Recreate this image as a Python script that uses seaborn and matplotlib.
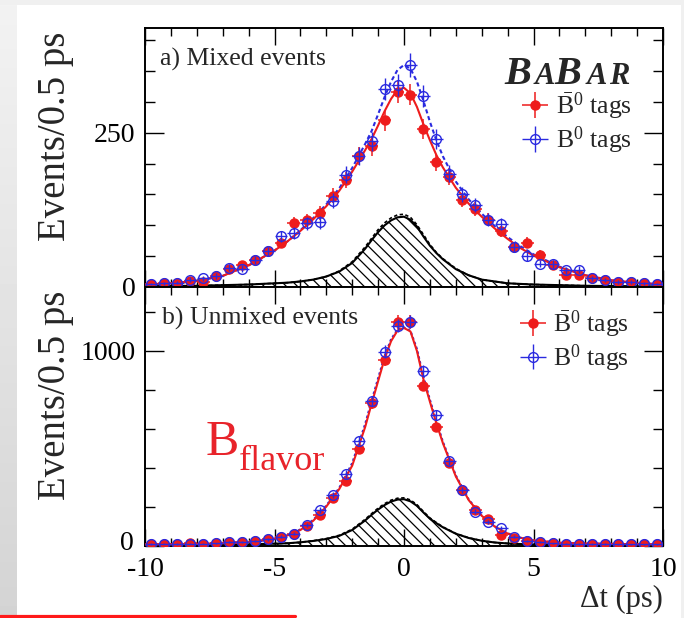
import numpy as np
import matplotlib
matplotlib.use("Agg")
import matplotlib.pyplot as plt
import seaborn as sns
from matplotlib.patches import Rectangle
from matplotlib.lines import Line2D
from matplotlib.ticker import MultipleLocator
from matplotlib.transforms import ScaledTranslation

# ---------------- data ----------------
dt_centers = [-9.75, -9.25, -8.75, -8.25, -7.75, -7.25, -6.75, -6.25, -5.75, -5.25,
              -4.75, -4.25, -3.75, -3.25, -2.75, -2.25, -1.75, -1.25, -0.75, -0.25,
              0.25, 0.75, 1.25, 1.75, 2.25, 2.75, 3.25, 3.75, 4.25, 4.75,
              5.25, 5.75, 6.25, 6.75, 7.25, 7.75, 8.25, 8.75, 9.25, 9.75]
bin_halfwidth = 0.25

mixed_b0bar = [5, 6, 7, 10, 8, 18, 29, 36, 44, 59, 71, 103, 108, 120, 148, 174, 213, 228, 270, 316,
               312, 256, 202, 179, 141, 127, 109, 90, 65, 72, 52, 36, 19, 19, 14, 11, 8, 8, 6, 5]
mixed_b0 = [5, 6, 7, 12, 14, 18, 31, 30, 44, 58, 82, 88, 103, 105, 140, 182, 213, 236, 321, 328,
            360, 310, 240, 184, 150, 133, 109, 102, 65, 50, 38, 37, 27, 28, 14, 11, 8, 8, 6, 5]
unmixed_b0bar = [10, 12, 9, 14, 11, 14, 19, 20, 27, 34, 48, 60, 103, 159, 245, 335, 496, 732, 954, 1148,
                 1148, 822, 612, 424, 287, 185, 137, 56, 39, 27, 22, 15, 12, 11, 9, 10, 8, 9, 8, 8]
unmixed_b0 = [10, 12, 10, 12, 12, 14, 19, 19, 27, 34, 48, 62, 108, 185, 262, 368, 540, 744, 997, 1130,
              1151, 898, 672, 436, 287, 176, 122, 94, 48, 27, 22, 14, 12, 10, 10, 10, 9, 9, 8, 8]

fit_dt = [-10, -9, -8, -7, -6, -5, -4.5, -4, -3.5, -3, -2.5, -2, -1.5, -1.25, -1, -0.75, -0.5, -0.25,
          0, 0.25, 0.5, 0.75, 1, 1.25, 1.5, 2, 2.5, 3, 3.5, 4, 4.5, 5, 6, 7, 8, 9, 10]
mixed_fit_b0bar = [4, 6, 10, 18, 35, 59, 74, 91, 110, 131, 156, 187, 222, 240, 262, 285, 305, 320,
                   323, 314, 292, 264, 238, 214, 194, 161, 135, 114, 95, 78, 63, 51, 32, 19, 11, 7, 4]
mixed_fit_b0 = [4, 6, 10, 18, 35, 59, 74, 92, 112, 134, 160, 193, 232, 253, 280, 308, 333, 352,
                360, 354, 333, 302, 268, 238, 212, 171, 142, 119, 99, 81, 66, 53, 33, 19, 11, 7, 4]
mixed_bkg_b0bar = [1, 1.5, 2, 3, 4, 6, 7, 9, 12, 17, 25, 39, 62, 76, 89, 100, 108, 113,
                   114, 109, 98, 82, 67, 55, 45, 29, 19, 12, 9, 6, 5, 4, 3, 2, 1.5, 1, 1]
mixed_bkg_b0 = [1, 1.5, 2, 3, 4, 6, 7, 9, 12, 17, 26, 41, 65, 79, 93, 104, 112, 117,
                118, 113, 101, 85, 69, 56, 46, 30, 19, 12, 9, 6, 5, 4, 3, 2, 1.5, 1, 1]
unmixed_fit_b0bar = [8, 9, 11, 14, 19, 37, 54, 82, 130, 202, 292, 412, 610, 730, 845, 960, 1050, 1105,
                     1118, 1100, 1000, 855, 740, 630, 528, 357, 235, 155, 100, 64, 42, 29, 17, 13, 11, 9, 8]
unmixed_fit_b0 = [8, 9, 11, 14, 19, 38, 56, 85, 134, 207, 298, 425, 625, 745, 860, 972, 1060, 1110,
                  1120, 1103, 1010, 868, 750, 640, 535, 362, 238, 157, 101, 65, 43, 29, 17, 13, 11, 9, 8]
unmixed_bkg_b0bar = [2, 3, 4, 6, 8, 12, 14, 19, 26, 36, 52, 82, 131, 160, 187, 210, 228, 238,
                     240, 229, 206, 172, 140, 117, 96, 63, 41, 27, 18, 13, 10, 8, 6, 4, 3, 2, 2]
unmixed_bkg_b0 = [2, 3, 4, 6, 8, 12, 14, 19, 27, 38, 55, 86, 137, 166, 194, 217, 235, 245,
                  247, 236, 212, 177, 144, 120, 98, 64, 42, 27, 18, 13, 10, 8, 6, 4, 3, 2, 2]

x_ticks = [-10, -5, 0, 5, 10]
mixed_yticks = [0, 250]
unmixed_yticks = [0, 1000]
panel_titles = ["a) Mixed events", "b) Unmixed events"]
legend_labels = [r"$\bar{\mathrm{B}}^0$ tags", r"$\mathrm{B}^0$ tags"]
y_label = "Events/0.5 ps"
x_label = "\u0394t (ps)"

RED = "#ee1c1c"
BLUE = "#2a2ae0"

# ---------------- style ----------------
sns.set_theme(style="ticks")
plt.rcParams["font.family"] = ["Liberation Serif", "DejaVu Serif"]
plt.rcParams["mathtext.fontset"] = "custom"
plt.rcParams["mathtext.rm"] = "Liberation Serif"
plt.rcParams["mathtext.it"] = "Liberation Serif:italic"
plt.rcParams["mathtext.bf"] = "Liberation Serif:bold"
plt.rcParams["hatch.linewidth"] = 0.9
plt.rcParams["hatch.color"] = "black"
plt.rcParams["axes.linewidth"] = 1.4

W, H = 684, 618
fig = plt.figure(figsize=(W / 100, H / 100), dpi=100)
fig.patch.set_facecolor("white")

# page decorations (slide frame)
bg = fig.add_axes([0, 0, 17 / W, 1])
bg.imshow(np.linspace(0.95, 0.83, 100).reshape(-1, 1), aspect="auto", cmap="gray",
          vmin=0, vmax=1, extent=[0, 1, 0, 1])
bg.axis("off")
fig.add_artist(Rectangle((0, 1 - 5 / H), 1, 5 / H, transform=fig.transFigure,
                         facecolor="#f0f0f0", edgecolor="none"))
fig.add_artist(Rectangle((1 - 3 / W, 0), 3 / W, 1, transform=fig.transFigure,
                         facecolor="#f0f0f0", edgecolor="none"))
fig.add_artist(Line2D([0, 295 / W], [1 - 616 / H, 1 - 616 / H], transform=fig.transFigure,
                      color="#ff1a1a", lw=2.3))

left, width = 145 / W, (663 - 145) / W
ax_top = fig.add_axes([left, 1 - 287 / H, width, (287 - 28) / H])
ax_bot = fig.add_axes([left, 1 - 546 / H, width, (546 - 287) / H])


def draw_panel(ax, b0bar, b0, fit_bar, fit_b0, bkg_bar, bkg_b0, b0_ls):
    ax.fill_between(fit_dt, 0, bkg_bar, facecolor="none", edgecolor="black",
                    hatch="\\\\\\", linewidth=0, zorder=1)
    sns.lineplot(x=fit_dt, y=bkg_b0, ax=ax, color="black", linewidth=1.2,
                 linestyle=(0, (2.0, 1.5)), zorder=2)
    sns.lineplot(x=fit_dt, y=bkg_bar, ax=ax, color="black", linewidth=1.5, zorder=2)
    sns.lineplot(x=fit_dt, y=fit_b0, ax=ax, color=BLUE, linewidth=1.5,
                 linestyle=b0_ls, zorder=3)
    sns.lineplot(x=fit_dt, y=fit_bar, ax=ax, color=RED, linewidth=1.5, zorder=3)
    h1 = ax.errorbar(dt_centers, b0bar, yerr=np.sqrt(b0bar), xerr=bin_halfwidth, fmt="o",
                     color=RED, ms=6.5, elinewidth=1.1, capsize=0, zorder=4)
    h2 = ax.errorbar(dt_centers, b0, yerr=np.sqrt(b0), xerr=bin_halfwidth, fmt="o",
                     color=BLUE, mfc="none", mec=BLUE, ms=7, mew=1.0, elinewidth=1.0,
                     capsize=0, zorder=5)
    ax.set_xlim(-10, 10)
    ax.xaxis.set_major_locator(MultipleLocator(5))
    ax.xaxis.set_minor_locator(MultipleLocator(1))
    ax.tick_params(which="both", direction="in", top=True, right=True, width=1.0,
                   colors="black", labelsize=20)
    ax.tick_params(axis="x", which="major", length=12, pad=8)
    ax.tick_params(axis="x", which="minor", length=6)
    ax.tick_params(axis="y", which="major", length=14, pad=7)
    ax.tick_params(axis="y", which="minor", length=7)
    for s in ax.spines.values():
        s.set_color("black")
        s.set_linewidth(1.4)
    ax.set_facecolor("white")
    ax.set_ylabel(y_label, fontsize=28, loc="top")
    ax.yaxis.set_label_coords(-0.137, 0.985)
    return h1, h2


h1, h2 = draw_panel(ax_top, mixed_b0bar, mixed_b0, mixed_fit_b0bar, mixed_fit_b0,
                    mixed_bkg_b0bar, mixed_bkg_b0, (0, (2.0, 1.4)))
ax_top.set_ylim(0, 420)
ax_top.set_yticks(mixed_yticks)
ax_top.yaxis.set_minor_locator(MultipleLocator(50))
ax_top.tick_params(labelbottom=False)
ax_top.set_xlabel("")

g1, g2 = draw_panel(ax_bot, unmixed_b0bar, unmixed_b0, unmixed_fit_b0bar, unmixed_fit_b0,
                    unmixed_bkg_b0bar, unmixed_bkg_b0, (0, (1.2, 1.2)))
ax_bot.set_ylim(0, 1328)
ax_bot.set_yticks(unmixed_yticks)
ax_bot.yaxis.set_minor_locator(MultipleLocator(200))
ax_bot.set_xticks(x_ticks)
ax_bot.set_xticklabels([str(v) for v in x_ticks])
ax_bot.set_xlabel(x_label, fontsize=22, loc="right", labelpad=2)

# lift the bottom panel's "0" a little so it sits clear of the "-10" below it
fig.canvas.draw()
for tick in ax_bot.yaxis.get_major_ticks():
    if tick.label1.get_text() == "0":
        tick.label1.set_transform(tick.label1.get_transform()
                                  + ScaledTranslation(-1 / 72, 4 / 72, fig.dpi_scale_trans))

# panel titles
ax_top.text(0.029, 0.853, panel_titles[0], transform=ax_top.transAxes, fontsize=18.5,
            va="baseline", ha="left")
ax_bot.text(0.032, 0.853, panel_titles[1], transform=ax_bot.transAxes, fontsize=18.5,
            va="baseline", ha="left")

# BABAR logo
for letter, xf, fs in [("B", 0.693, 29), ("A", 0.753, 22), ("B", 0.790, 29),
                       ("A", 0.852, 22), ("R", 0.896, 22)]:
    ax_top.text(xf, 0.784, letter, transform=ax_top.transAxes, fontsize=fs,
                fontweight="bold", fontstyle="italic", va="baseline", ha="left")

# legends
ax_top.legend([h1, h2], legend_labels, loc="center left", bbox_to_anchor=(0.728, 0.632),
              frameon=False, fontsize=18.5, handlelength=1.0, handletextpad=0.3,
              labelspacing=0.12, borderpad=0, borderaxespad=0)
ax_bot.legend([g1, g2], legend_labels, loc="center left", bbox_to_anchor=(0.724, 0.791),
              frameon=False, fontsize=18.5, handlelength=1.0, handletextpad=0.3,
              labelspacing=0.12, borderpad=0, borderaxespad=0)

# B_flavor annotation
ax_bot.text(0.116, 0.351, "B", transform=ax_bot.transAxes, fontsize=36, color="#e8232a",
            va="baseline", ha="left")
ax_bot.text(0.181, 0.293, "flavor", transform=ax_bot.transAxes, fontsize=26, color="#e8232a",
            va="baseline", ha="left")

fig.savefig("out.png", dpi=100)
